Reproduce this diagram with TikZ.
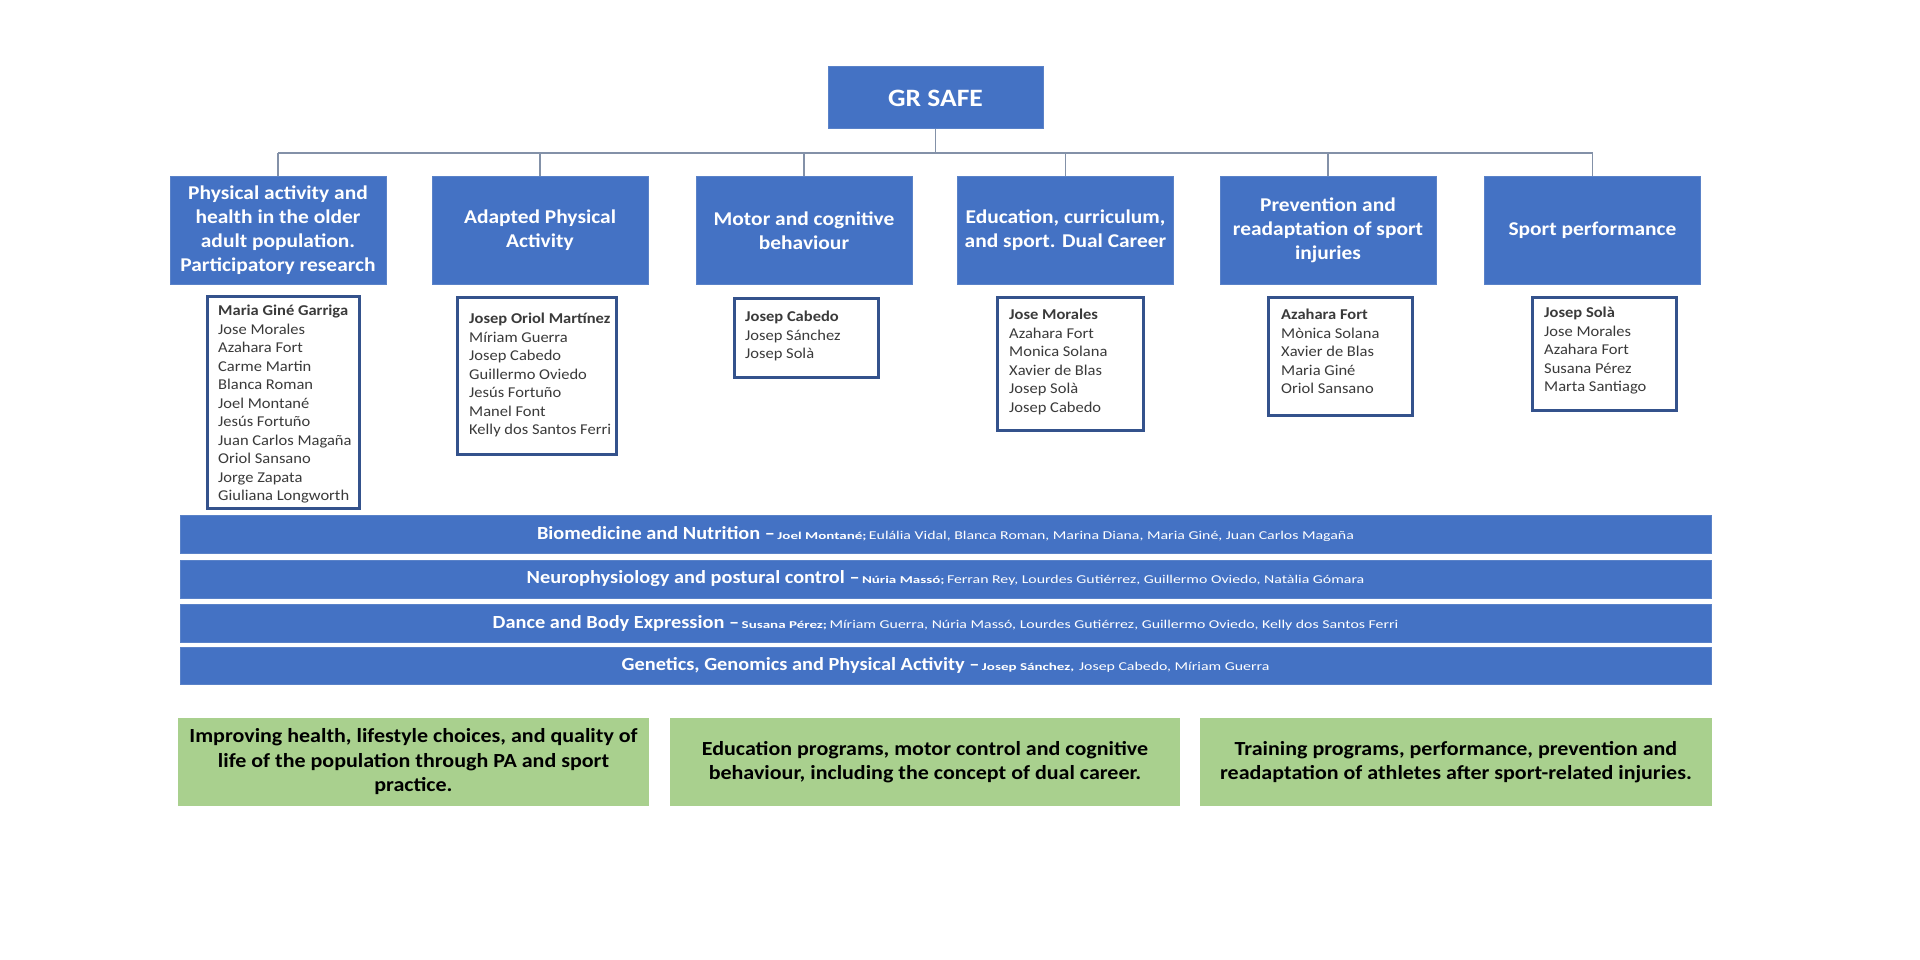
\documentclass[tikz,border=0pt]{standalone}
\usepackage{fontspec}
\usepackage{graphicx}
\setmainfont{Carlito}[FakeStretch=1.1]
\definecolor{ofblue}{HTML}{4472C4}
\definecolor{ofblueline}{HTML}{5A82C8}
\definecolor{mboxline}{HTML}{34528C}
\definecolor{conncol}{HTML}{8391A8}
\definecolor{ofgreen}{HTML}{A9D08E}
\definecolor{namegray}{HTML}{3A3A3A}
\newcommand{\bartitle}[1]{{\fontsize{18.5}{22}\selectfont\bfseries #1}}
\newcommand{\barlead}[1]{\scalebox{1.3}[1]{\fontsize{10.5}{12}\selectfont\bfseries #1}}
\newcommand{\barnames}[1]{\scalebox{1.2}[1]{\fontsize{12}{14}\selectfont #1}}
\begin{document}
\begin{tikzpicture}[x=1pt,y=-1pt,
  topbox/.style={fill=ofblue, draw=ofblueline, line width=1pt, text=white, font=\fontsize{25}{29}\selectfont\bfseries, minimum width=215, minimum height=62, inner sep=0},
  lvlbox/.style={fill=ofblue, draw=ofblueline, line width=1pt, text=white, font=\fontsize{19.5}{24}\selectfont\bfseries, minimum width=216, minimum height=107, align=center, inner sep=0},
  mbox/.style={draw=mboxline, line width=2.5pt, fill=white, inner sep=0, anchor=north west},
  mtext/.style={anchor=north west, align=left, inner sep=0, font=\fontsize{15}{18.5}\selectfont, text=namegray},
  barbox/.style={fill=ofblue, draw=ofblueline, line width=1pt, minimum width=1531, text=white, inner sep=0},
  goalbox/.style={fill=ofgreen, minimum height=88, align=center, font=\fontsize{20}{24.5}\selectfont\bfseries, text=black, inner sep=0},
  conn/.style={draw=conncol, line width=1.5pt}
]
\useasboundingbox[fill=white] (0,0) rectangle (1920,960);

% top
\node[topbox] (gr) at (935.5,98) {GR SAFE};
\coordinate (busy) at (0,153);

% level 2
\node[lvlbox] (l1) at (278,230.5) {Physical activity and\\health in the older\\adult population.\\Participatory research};
\node[lvlbox] (l2) at (540,230.5) {Adapted Physical\\Activity};
\node[lvlbox] (l3) at (804,230.5) {Motor and cognitive\\behaviour};
\node[lvlbox] (l4) at (1065.5,230.5) {Education, curriculum,\\and sport. Dual Career};
\node[lvlbox] (l5) at (1328,230.5) {Prevention and\\readaptation of sport\\injuries};
\node[lvlbox] (l6) at (1592.5,230.5) {Sport performance};

% connectors
\draw[conn] (gr.south) -- (gr.south |- busy);
\draw[conn] (l1.north |- busy) -- (l6.north |- busy);
\foreach \n in {l1,l2,l3,l4,l5,l6} {\draw[conn] (\n.north |- busy) -- (\n.north);}

% member boxes
\node[mbox, minimum width=152, minimum height=212] (m1) at (206,295) {};
\node[mtext] (t1) at ([shift={(12,10)}]m1.north west) {\textbf{Maria Giné Garriga}\\Jose Morales\\Azahara Fort\\Carme Martin\\Blanca Roman\\Joel Montané\\Jesús Fortuño\\Juan Carlos Magaña\\Oriol Sansano\\Jorge Zapata\\Giuliana Longworth};

\node[mbox, minimum width=159, minimum height=157] (m2) at (456,296) {};
\node[mtext] (t2) at ([shift={(13,17)}]m2.north west) {\textbf{Josep Oriol Martínez}\\Míriam Guerra\\Josep Cabedo\\Guillermo Oviedo\\Jesús Fortuño\\Manel Font\\Kelly dos Santos Ferri};

\node[mbox, minimum width=144, minimum height=79] (m3) at (733,297) {};
\node[mtext] (t3) at ([shift={(12,14)}]m3.north west) {\textbf{Josep Cabedo}\\Josep Sánchez\\Josep Solà};

\node[mbox, minimum width=146, minimum height=133] (m4) at (996,296) {};
\node[mtext] (t4) at ([shift={(13,13)}]m4.north west) {\textbf{Jose Morales}\\Azahara Fort\\Monica Solana\\Xavier de Blas\\Josep Solà\\Josep Cabedo};

\node[mbox, minimum width=144, minimum height=118] (m5) at (1267,296) {};
\node[mtext] (t5) at ([shift={(14,13)}]m5.north west) {\textbf{Azahara Fort}\\Mònica Solana\\Xavier de Blas\\Maria Giné\\Oriol Sansano};

\node[mbox, minimum width=144, minimum height=113] (m6) at (1531,296) {};
\node[mtext] (t6) at ([shift={(13,11)}]m6.north west) {\textbf{Josep Solà}\\Jose Morales\\Azahara Fort\\Susana Pérez\\Marta Santiago};

% bars
\node[barbox, minimum height=38] (b1) at (945.5,534) {\bartitle{Biomedicine and Nutrition –}~\barlead{Joel Montané;}~\barnames{Eulália Vidal, Blanca Roman, Marina Diana, Maria Giné, Juan Carlos Magaña}};
\node[barbox, minimum height=38] (b2) at (945.5,579) {\bartitle{Neurophysiology and postural control –}~\barlead{Núria Massó;}~\barnames{Ferran Rey, Lourdes Gutiérrez, Guillermo Oviedo, Natàlia Gómara}};
\node[barbox, minimum height=38] (b3) at (945.5,623) {\bartitle{Dance and Body Expression –}~\barlead{Susana Pérez;}~\barnames{Míriam Guerra, Núria Massó, Lourdes Gutiérrez, Guillermo Oviedo, Kelly dos Santos Ferri}};
\node[barbox, minimum height=37] (b4) at (945.5,665.5) {\bartitle{Genetics, Genomics and Physical Activity –}~\barlead{Josep Sánchez,}~~\barnames{Josep Cabedo, Míriam Guerra}};

% goals
\node[goalbox, minimum width=471] (g1) at (413.5,762) {Improving health, lifestyle choices, and quality of\\life of the population through PA and sport\\practice.};
\node[goalbox, minimum width=510] (g2) at (925,762) {Education programs, motor control and cognitive\\behaviour, including the concept of dual career.};
\node[goalbox, minimum width=512] (g3) at (1456,762) {Training programs, performance, prevention and\\readaptation of athletes after sport-related injuries.};
\end{tikzpicture}
\end{document}
